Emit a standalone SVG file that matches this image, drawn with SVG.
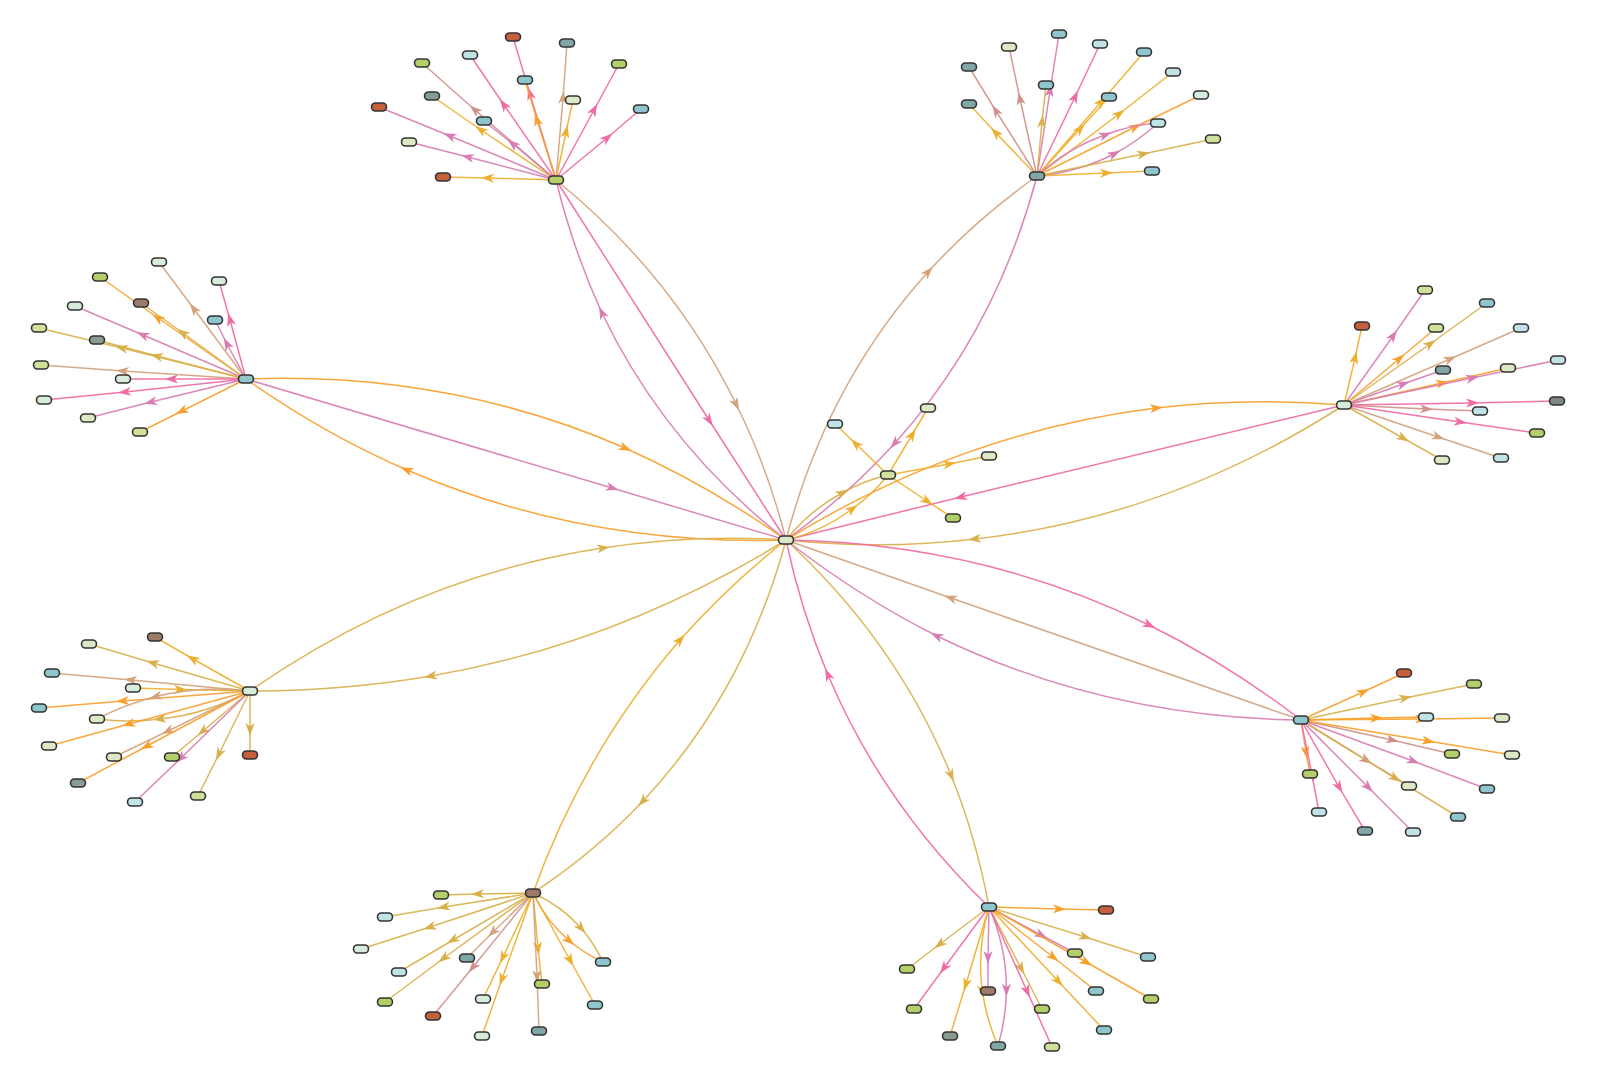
<svg xmlns="http://www.w3.org/2000/svg" width="1600" height="1084" viewBox="0 0 1600 1084">
<style>
.e{fill:none;stroke-width:1.5;stroke-opacity:.92}
.pk{stroke:#f06aa3;marker-mid:url(#a-pk)}
.mv{stroke:#d87db2;marker-mid:url(#a-mv)}
.rs{stroke:#d1908c;marker-mid:url(#a-rs)}
.tn{stroke:#d4a37c;marker-mid:url(#a-tn)}
.or{stroke:#f9a02c;marker-mid:url(#a-or)}
.am{stroke:#edb02e;marker-mid:url(#a-am)}
.gd{stroke:#d9b14c;marker-mid:url(#a-gd)}
.n rect{stroke:#333;stroke-width:1.6}
.gr{fill:#b3cf6a}.pg{fill:#cfe19b}.lg{fill:#dde9c4}.mi{fill:#d8ecdc}.lc{fill:#bfe3e6}
.te{fill:#8fc6cd}.gt{fill:#80a6a6}.gy{fill:#8a9c92}.dg{fill:#7f8782}.rd{fill:#c4603c}.br{fill:#9c7a68}
</style>
<defs>
<marker id="a-pk" viewBox="-7 -6 14 12" markerWidth="14" markerHeight="12" markerUnits="userSpaceOnUse" orient="auto"><path d="M-6,-4.5L7,0L-6,4.5L-2.5,0Z" fill="#f06aa3"/></marker>
<marker id="a-mv" viewBox="-7 -6 14 12" markerWidth="14" markerHeight="12" markerUnits="userSpaceOnUse" orient="auto"><path d="M-6,-4.5L7,0L-6,4.5L-2.5,0Z" fill="#d87db2"/></marker>
<marker id="a-rs" viewBox="-7 -6 14 12" markerWidth="14" markerHeight="12" markerUnits="userSpaceOnUse" orient="auto"><path d="M-6,-4.5L7,0L-6,4.5L-2.5,0Z" fill="#d1908c"/></marker>
<marker id="a-tn" viewBox="-7 -6 14 12" markerWidth="14" markerHeight="12" markerUnits="userSpaceOnUse" orient="auto"><path d="M-6,-4.5L7,0L-6,4.5L-2.5,0Z" fill="#d4a37c"/></marker>
<marker id="a-or" viewBox="-7 -6 14 12" markerWidth="14" markerHeight="12" markerUnits="userSpaceOnUse" orient="auto"><path d="M-6,-4.5L7,0L-6,4.5L-2.5,0Z" fill="#f9a02c"/></marker>
<marker id="a-am" viewBox="-7 -6 14 12" markerWidth="14" markerHeight="12" markerUnits="userSpaceOnUse" orient="auto"><path d="M-6,-4.5L7,0L-6,4.5L-2.5,0Z" fill="#edb02e"/></marker>
<marker id="a-gd" viewBox="-7 -6 14 12" markerWidth="14" markerHeight="12" markerUnits="userSpaceOnUse" orient="auto"><path d="M-6,-4.5L7,0L-6,4.5L-2.5,0Z" fill="#d9b14c"/></marker>
</defs>
<rect width="1600" height="1084" fill="#fff"/>
<g id="connectors">
<path class="e pk" d="M556,180L709,420L786,540"/>
<path class="e mv" d="M786,540Q665,445 602,313Q573,250 556,180"/>
<path class="e tn" d="M556,180Q673,275 736,404Q768,468 786,540"/>
<path class="e tn" d="M786,540Q826,385 928,272Q975,220 1037,176"/>
<path class="e mv" d="M1037,176Q996,331 895,443Q847,496 786,540"/>
<path class="e or" d="M246,379Q448,371 625,448Q708,485 786,540"/>
<path class="e mv" d="M246,379L612,488L786,540"/>
<path class="e or" d="M786,540Q584,546 407,470Q324,434 246,379"/>
<path class="e or" d="M786,540Q961,432 1156,408Q1248,397 1344,405"/>
<path class="e pk" d="M1344,405L961,497L786,540"/>
<path class="e gd" d="M1344,405Q1170,517 975,539Q883,550 786,540"/>
<path class="e gd" d="M250,691Q414,576 603,548Q692,534 786,540"/>
<path class="e gd" d="M786,540Q618,644 431,676Q343,691 250,691"/>
<path class="e tn" d="M1301,720L951,598L786,540"/>
<path class="e mv" d="M1301,720Q1105,718 937,636Q859,597 786,540"/>
<path class="e pk" d="M786,540Q981,543 1149,625Q1228,664 1301,720"/>
<path class="e am" d="M533,893Q584,751 680,640Q728,586 786,540"/>
<path class="e gd" d="M786,540Q745,692 643,801Q595,852 533,893"/>
<path class="e pk" d="M989,907Q883,805 828,675Q801,611 786,540"/>
<path class="e gd" d="M786,540Q897,642 951,775Q976,837 989,907"/>
<path class="e gd" d="M786,540Q810,510 842,493Q863,481 888,475"/>
<path class="e am" d="M786,540Q823,531 852,509Q872,495 888,475"/>
<path class="e am" d="M888,475L856,444L835,424"/>
<path class="e am" d="M888,475L912,435L928,408"/>
<path class="e am" d="M888,475L949,464L989,456"/>
<path class="e am" d="M888,475L927,501L953,518"/>
<path class="e pk" d="M556,180L530,94L513,37"/>
<path class="e or" d="M556,180L537,120L525,80"/>
<path class="e tn" d="M556,180L563,98L567,43"/>
<path class="e pk" d="M556,180L504,105L470,55"/>
<path class="e rs" d="M556,180L475,110L422,63"/>
<path class="e pk" d="M556,180L594,110L619,64"/>
<path class="e am" d="M556,180L481,130L432,96"/>
<path class="e am" d="M556,180L566,132L573,100"/>
<path class="e mv" d="M556,180L450,136L379,107"/>
<path class="e pk" d="M556,180L607,138L641,109"/>
<path class="e mv" d="M556,180L513,144L484,121"/>
<path class="e mv" d="M556,180L468,157L409,142"/>
<path class="e am" d="M556,180L488,178L443,177"/>
<path class="e mv" d="M1037,176L1050,91L1059,34"/>
<path class="e rs" d="M1037,176L1020,99L1009,47"/>
<path class="e pk" d="M1037,176L1075,97L1100,44"/>
<path class="e rs" d="M1037,176L996,111L969,67"/>
<path class="e am" d="M1037,176L1101,102L1144,52"/>
<path class="e am" d="M1037,176L1119,114L1173,72"/>
<path class="e gd" d="M1037,176L1042,122L1046,85"/>
<path class="e am" d="M1037,176L1080,129L1109,97"/>
<path class="e am" d="M1037,176L996,133L969,104"/>
<path class="e or" d="M1037,176L1135,127L1201,95"/>
<path class="e mv" d="M1037,176Q1068,148 1105,135Q1130,125 1158,123"/>
<path class="e mv" d="M1037,176Q1079,172 1114,154Q1137,142 1158,123"/>
<path class="e gd" d="M1037,176L1143,154L1213,139"/>
<path class="e am" d="M1037,176L1106,173L1152,171"/>
<path class="e tn" d="M246,379L194,309L159,262"/>
<path class="e or" d="M246,379L158,318L100,277"/>
<path class="e gd" d="M246,379L183,333L141,303"/>
<path class="e pk" d="M246,379L230,320L219,281"/>
<path class="e mv" d="M246,379L227,344L215,320"/>
<path class="e mv" d="M246,379L143,335L75,306"/>
<path class="e gd" d="M246,379L122,348L39,328"/>
<path class="e gd" d="M246,379L157,356L97,340"/>
<path class="e tn" d="M246,379L123,371L41,365"/>
<path class="e pk" d="M246,379L172,379L123,379"/>
<path class="e pk" d="M246,379L125,392L44,400"/>
<path class="e mv" d="M246,379L151,402L88,418"/>
<path class="e or" d="M246,379L182,411L140,432"/>
<path class="e am" d="M1344,405L1355,358L1362,326"/>
<path class="e mv" d="M1344,405L1393,336L1425,290"/>
<path class="e or" d="M1344,405L1399,359L1436,328"/>
<path class="e gd" d="M1344,405L1430,344L1487,303"/>
<path class="e tn" d="M1344,405L1450,359L1521,328"/>
<path class="e mv" d="M1344,405L1403,384L1443,370"/>
<path class="e or" d="M1344,405L1442,383L1508,368"/>
<path class="e mv" d="M1344,405L1472,378L1558,360"/>
<path class="e pk" d="M1344,405L1472,403L1557,401"/>
<path class="e rs" d="M1344,405L1426,409L1480,411"/>
<path class="e pk" d="M1344,405L1460,422L1537,433"/>
<path class="e gd" d="M1344,405L1403,438L1442,460"/>
<path class="e tn" d="M1344,405L1438,437L1501,458"/>
<path class="e am" d="M250,691L193,659L155,637"/>
<path class="e gd" d="M250,691L153,663L89,644"/>
<path class="e tn" d="M250,691L131,680L52,673"/>
<path class="e am" d="M133,688L180,689.5L250,691"/>
<path class="e or" d="M250,691L123,701L39,708"/>
<path class="e tn" d="M250,691Q201.5,685 156,696.5Q126,704 97,719"/>
<path class="e gd" d="M250,691Q207,714 160,719Q129,723 97,719"/>
<path class="e or" d="M250,691L129,724L49,746"/>
<path class="e tn" d="M250,691L168,731L114,757"/>
<path class="e or" d="M250,691L147,746L78,783"/>
<path class="e gd" d="M250,691L203,731L172,757"/>
<path class="e mv" d="M250,691L181,758L135,802"/>
<path class="e gd" d="M250,691L219,754L198,796"/>
<path class="e gd" d="M250,691L250,729L250,755"/>
<path class="e or" d="M1301,720L1363,692L1404,673"/>
<path class="e gd" d="M1301,720L1405,698L1474,684"/>
<path class="e or" d="M1301,720L1376,718L1426,717"/>
<path class="e or" d="M1301,720L1421,719L1502,718"/>
<path class="e rs" d="M1301,720L1392,740L1452,754"/>
<path class="e or" d="M1301,720L1428,741L1512,755"/>
<path class="e rs" d="M1301,720L1366,760L1409,786"/>
<path class="e gd" d="M1301,720L1395,778L1458,817"/>
<path class="e mv" d="M1301,720L1413,761L1487,789"/>
<path class="e or" d="M1301,720L1306,752L1310,774"/>
<path class="e pk" d="M1301,720L1312,775L1319,812"/>
<path class="e pk" d="M1301,720L1339,787L1365,831"/>
<path class="e mv" d="M1301,720L1368,787L1413,832"/>
<path class="e gd" d="M533,893L478,894L441,895"/>
<path class="e gd" d="M533,893L444,907L385,917"/>
<path class="e gd" d="M533,893L430,927L361,949"/>
<path class="e gd" d="M533,893L453,940L399,972"/>
<path class="e tn" d="M533,893L493,932L467,958"/>
<path class="e gd" d="M533,893L444,958L385,1002"/>
<path class="e rs" d="M533,893L473,967L433,1016"/>
<path class="e am" d="M533,893L503,957L483,999"/>
<path class="e am" d="M533,893L502,979L482,1036"/>
<path class="e am" d="M533,893L538,948L542,984"/>
<path class="e tn" d="M533,893L537,976L539,1031"/>
<path class="e am" d="M533,893L570,960L595,1005"/>
<path class="e gd" d="M533,893Q561.6,906 581,928Q594,943 603,962"/>
<path class="e or" d="M533,893Q546.4,921.4 569,940.5Q584,953.3 603,962"/>
<path class="e or" d="M989,907L1059,909L1106,910"/>
<path class="e gd" d="M989,907L1085,937L1148,957"/>
<path class="e mv" d="M989,907L1041,935L1075,953"/>
<path class="e or" d="M989,907L1086,962L1151,999"/>
<path class="e or" d="M989,907L1053,957L1096,991"/>
<path class="e gd" d="M989,907L940,944L907,969"/>
<path class="e pk" d="M989,907L944,968L914,1009"/>
<path class="e mv" d="M989,907L988,957L988,991"/>
<path class="e gd" d="M989,907L1021,968L1042,1009"/>
<path class="e am" d="M989,907L1058,981L1104,1030"/>
<path class="e am" d="M989,907L966,984L950,1036"/>
<path class="e am" d="M989,907Q976.7,949.7 982.4,991.2Q986.2,1018.8 998,1046"/>
<path class="e mv" d="M989,907Q1006.7,947.7 1006.4,989.7Q1006.2,1017.6 998,1046"/>
<path class="e pk" d="M989,907L1027,991L1052,1047"/>
</g>
<g id="n-c0" class="n"><rect class="lg" x="778.5" y="536" width="15" height="8" rx="4"/></g>
<g id="n-h1" class="n"><rect class="gr" x="548.5" y="176" width="15" height="8" rx="4"/></g>
<g id="n-h2" class="n"><rect class="gt" x="1029.5" y="172" width="15" height="8" rx="4"/></g>
<g id="n-h3" class="n"><rect class="te" x="238.5" y="375" width="15" height="8" rx="4"/></g>
<g id="n-h4" class="n"><rect class="mi" x="1336.5" y="401" width="15" height="8" rx="4"/></g>
<g id="n-h5" class="n"><rect class="mi" x="242.5" y="687" width="15" height="8" rx="4"/></g>
<g id="n-h6" class="n"><rect class="te" x="1293.5" y="716" width="15" height="8" rx="4"/></g>
<g id="n-h7" class="n"><rect class="br" x="525.5" y="889" width="15" height="8" rx="4"/></g>
<g id="n-h8" class="n"><rect class="te" x="981.5" y="903" width="15" height="8" rx="4"/></g>
<g id="n-h9" class="n"><rect class="pg" x="880.5" y="471" width="15" height="8" rx="4"/></g>
<g id="n-9a" class="n"><rect class="lc" x="827.5" y="420" width="15" height="8" rx="4"/></g>
<g id="n-9b" class="n"><rect class="lg" x="920.5" y="404" width="15" height="8" rx="4"/></g>
<g id="n-9c" class="n"><rect class="lg" x="981.5" y="452" width="15" height="8" rx="4"/></g>
<g id="n-9d" class="n"><rect class="gr" x="945.5" y="514" width="15" height="8" rx="4"/></g>
<g id="n-1a" class="n"><rect class="rd" x="505.5" y="33" width="15" height="8" rx="4"/></g>
<g id="n-1b" class="n"><rect class="te" x="517.5" y="76" width="15" height="8" rx="4"/></g>
<g id="n-1c" class="n"><rect class="gt" x="559.5" y="39" width="15" height="8" rx="4"/></g>
<g id="n-1d" class="n"><rect class="lc" x="462.5" y="51" width="15" height="8" rx="4"/></g>
<g id="n-1e" class="n"><rect class="gr" x="414.5" y="59" width="15" height="8" rx="4"/></g>
<g id="n-1f" class="n"><rect class="gr" x="611.5" y="60" width="15" height="8" rx="4"/></g>
<g id="n-1g" class="n"><rect class="gy" x="424.5" y="92" width="15" height="8" rx="4"/></g>
<g id="n-1h" class="n"><rect class="lg" x="565.5" y="96" width="15" height="8" rx="4"/></g>
<g id="n-1i" class="n"><rect class="rd" x="371.5" y="103" width="15" height="8" rx="4"/></g>
<g id="n-1j" class="n"><rect class="te" x="633.5" y="105" width="15" height="8" rx="4"/></g>
<g id="n-1k" class="n"><rect class="te" x="476.5" y="117" width="15" height="8" rx="4"/></g>
<g id="n-1l" class="n"><rect class="lg" x="401.5" y="138" width="15" height="8" rx="4"/></g>
<g id="n-1m" class="n"><rect class="rd" x="435.5" y="173" width="15" height="8" rx="4"/></g>
<g id="n-2a" class="n"><rect class="te" x="1051.5" y="30" width="15" height="8" rx="4"/></g>
<g id="n-2b" class="n"><rect class="lg" x="1001.5" y="43" width="15" height="8" rx="4"/></g>
<g id="n-2c" class="n"><rect class="lc" x="1092.5" y="40" width="15" height="8" rx="4"/></g>
<g id="n-2d" class="n"><rect class="gt" x="961.5" y="63" width="15" height="8" rx="4"/></g>
<g id="n-2e" class="n"><rect class="te" x="1136.5" y="48" width="15" height="8" rx="4"/></g>
<g id="n-2f" class="n"><rect class="lc" x="1165.5" y="68" width="15" height="8" rx="4"/></g>
<g id="n-2g" class="n"><rect class="te" x="1038.5" y="81" width="15" height="8" rx="4"/></g>
<g id="n-2h" class="n"><rect class="te" x="1101.5" y="93" width="15" height="8" rx="4"/></g>
<g id="n-2i" class="n"><rect class="gt" x="961.5" y="100" width="15" height="8" rx="4"/></g>
<g id="n-2j" class="n"><rect class="mi" x="1193.5" y="91" width="15" height="8" rx="4"/></g>
<g id="n-2k" class="n"><rect class="lc" x="1150.5" y="119" width="15" height="8" rx="4"/></g>
<g id="n-2l" class="n"><rect class="pg" x="1205.5" y="135" width="15" height="8" rx="4"/></g>
<g id="n-2m" class="n"><rect class="te" x="1144.5" y="167" width="15" height="8" rx="4"/></g>
<g id="n-3a" class="n"><rect class="mi" x="151.5" y="258" width="15" height="8" rx="4"/></g>
<g id="n-3b" class="n"><rect class="gr" x="92.5" y="273" width="15" height="8" rx="4"/></g>
<g id="n-3c" class="n"><rect class="br" x="133.5" y="299" width="15" height="8" rx="4"/></g>
<g id="n-3d" class="n"><rect class="mi" x="211.5" y="277" width="15" height="8" rx="4"/></g>
<g id="n-3e" class="n"><rect class="te" x="207.5" y="316" width="15" height="8" rx="4"/></g>
<g id="n-3f" class="n"><rect class="mi" x="67.5" y="302" width="15" height="8" rx="4"/></g>
<g id="n-3g" class="n"><rect class="pg" x="31.5" y="324" width="15" height="8" rx="4"/></g>
<g id="n-3h" class="n"><rect class="gy" x="89.5" y="336" width="15" height="8" rx="4"/></g>
<g id="n-3i" class="n"><rect class="pg" x="33.5" y="361" width="15" height="8" rx="4"/></g>
<g id="n-3j" class="n"><rect class="mi" x="115.5" y="375" width="15" height="8" rx="4"/></g>
<g id="n-3k" class="n"><rect class="mi" x="36.5" y="396" width="15" height="8" rx="4"/></g>
<g id="n-3l" class="n"><rect class="lg" x="80.5" y="414" width="15" height="8" rx="4"/></g>
<g id="n-3m" class="n"><rect class="pg" x="132.5" y="428" width="15" height="8" rx="4"/></g>
<g id="n-4a" class="n"><rect class="rd" x="1354.5" y="322" width="15" height="8" rx="4"/></g>
<g id="n-4b" class="n"><rect class="pg" x="1417.5" y="286" width="15" height="8" rx="4"/></g>
<g id="n-4c" class="n"><rect class="pg" x="1428.5" y="324" width="15" height="8" rx="4"/></g>
<g id="n-4d" class="n"><rect class="te" x="1479.5" y="299" width="15" height="8" rx="4"/></g>
<g id="n-4e" class="n"><rect class="lc" x="1513.5" y="324" width="15" height="8" rx="4"/></g>
<g id="n-4f" class="n"><rect class="gt" x="1435.5" y="366" width="15" height="8" rx="4"/></g>
<g id="n-4g" class="n"><rect class="lg" x="1500.5" y="364" width="15" height="8" rx="4"/></g>
<g id="n-4h" class="n"><rect class="lc" x="1550.5" y="356" width="15" height="8" rx="4"/></g>
<g id="n-4i" class="n"><rect class="dg" x="1549.5" y="397" width="15" height="8" rx="4"/></g>
<g id="n-4j" class="n"><rect class="lc" x="1472.5" y="407" width="15" height="8" rx="4"/></g>
<g id="n-4k" class="n"><rect class="gr" x="1529.5" y="429" width="15" height="8" rx="4"/></g>
<g id="n-4l" class="n"><rect class="lg" x="1434.5" y="456" width="15" height="8" rx="4"/></g>
<g id="n-4m" class="n"><rect class="lc" x="1493.5" y="454" width="15" height="8" rx="4"/></g>
<g id="n-5a" class="n"><rect class="br" x="147.5" y="633" width="15" height="8" rx="4"/></g>
<g id="n-5b" class="n"><rect class="lg" x="81.5" y="640" width="15" height="8" rx="4"/></g>
<g id="n-5c" class="n"><rect class="te" x="44.5" y="669" width="15" height="8" rx="4"/></g>
<g id="n-5d" class="n"><rect class="mi" x="125.5" y="684" width="15" height="8" rx="4"/></g>
<g id="n-5e" class="n"><rect class="te" x="31.5" y="704" width="15" height="8" rx="4"/></g>
<g id="n-5f" class="n"><rect class="lg" x="89.5" y="715" width="15" height="8" rx="4"/></g>
<g id="n-5g" class="n"><rect class="lg" x="41.5" y="742" width="15" height="8" rx="4"/></g>
<g id="n-5h" class="n"><rect class="lg" x="106.5" y="753" width="15" height="8" rx="4"/></g>
<g id="n-5i" class="n"><rect class="gy" x="70.5" y="779" width="15" height="8" rx="4"/></g>
<g id="n-5j" class="n"><rect class="gr" x="164.5" y="753" width="15" height="8" rx="4"/></g>
<g id="n-5k" class="n"><rect class="lc" x="127.5" y="798" width="15" height="8" rx="4"/></g>
<g id="n-5l" class="n"><rect class="pg" x="190.5" y="792" width="15" height="8" rx="4"/></g>
<g id="n-5m" class="n"><rect class="rd" x="242.5" y="751" width="15" height="8" rx="4"/></g>
<g id="n-6a" class="n"><rect class="rd" x="1396.5" y="669" width="15" height="8" rx="4"/></g>
<g id="n-6b" class="n"><rect class="gr" x="1466.5" y="680" width="15" height="8" rx="4"/></g>
<g id="n-6c" class="n"><rect class="lc" x="1418.5" y="713" width="15" height="8" rx="4"/></g>
<g id="n-6d" class="n"><rect class="lg" x="1494.5" y="714" width="15" height="8" rx="4"/></g>
<g id="n-6e" class="n"><rect class="gr" x="1444.5" y="750" width="15" height="8" rx="4"/></g>
<g id="n-6f" class="n"><rect class="lg" x="1504.5" y="751" width="15" height="8" rx="4"/></g>
<g id="n-6g" class="n"><rect class="lg" x="1401.5" y="782" width="15" height="8" rx="4"/></g>
<g id="n-6h" class="n"><rect class="te" x="1450.5" y="813" width="15" height="8" rx="4"/></g>
<g id="n-6i" class="n"><rect class="te" x="1479.5" y="785" width="15" height="8" rx="4"/></g>
<g id="n-6j" class="n"><rect class="gr" x="1302.5" y="770" width="15" height="8" rx="4"/></g>
<g id="n-6k" class="n"><rect class="lc" x="1311.5" y="808" width="15" height="8" rx="4"/></g>
<g id="n-6l" class="n"><rect class="gt" x="1357.5" y="827" width="15" height="8" rx="4"/></g>
<g id="n-6m" class="n"><rect class="lc" x="1405.5" y="828" width="15" height="8" rx="4"/></g>
<g id="n-7a" class="n"><rect class="gr" x="433.5" y="891" width="15" height="8" rx="4"/></g>
<g id="n-7b" class="n"><rect class="lc" x="377.5" y="913" width="15" height="8" rx="4"/></g>
<g id="n-7c" class="n"><rect class="mi" x="353.5" y="945" width="15" height="8" rx="4"/></g>
<g id="n-7d" class="n"><rect class="lc" x="391.5" y="968" width="15" height="8" rx="4"/></g>
<g id="n-7e" class="n"><rect class="gt" x="459.5" y="954" width="15" height="8" rx="4"/></g>
<g id="n-7f" class="n"><rect class="gr" x="377.5" y="998" width="15" height="8" rx="4"/></g>
<g id="n-7g" class="n"><rect class="rd" x="425.5" y="1012" width="15" height="8" rx="4"/></g>
<g id="n-7h" class="n"><rect class="mi" x="475.5" y="995" width="15" height="8" rx="4"/></g>
<g id="n-7i" class="n"><rect class="mi" x="474.5" y="1032" width="15" height="8" rx="4"/></g>
<g id="n-7j" class="n"><rect class="gr" x="534.5" y="980" width="15" height="8" rx="4"/></g>
<g id="n-7k" class="n"><rect class="gt" x="531.5" y="1027" width="15" height="8" rx="4"/></g>
<g id="n-7l" class="n"><rect class="te" x="587.5" y="1001" width="15" height="8" rx="4"/></g>
<g id="n-7m" class="n"><rect class="te" x="595.5" y="958" width="15" height="8" rx="4"/></g>
<g id="n-8a" class="n"><rect class="rd" x="1098.5" y="906" width="15" height="8" rx="4"/></g>
<g id="n-8b" class="n"><rect class="te" x="1140.5" y="953" width="15" height="8" rx="4"/></g>
<g id="n-8c" class="n"><rect class="gr" x="1067.5" y="949" width="15" height="8" rx="4"/></g>
<g id="n-8d" class="n"><rect class="gr" x="1143.5" y="995" width="15" height="8" rx="4"/></g>
<g id="n-8e" class="n"><rect class="te" x="1088.5" y="987" width="15" height="8" rx="4"/></g>
<g id="n-8f" class="n"><rect class="gr" x="899.5" y="965" width="15" height="8" rx="4"/></g>
<g id="n-8g" class="n"><rect class="gr" x="906.5" y="1005" width="15" height="8" rx="4"/></g>
<g id="n-8h" class="n"><rect class="br" x="980.5" y="987" width="15" height="8" rx="4"/></g>
<g id="n-8i" class="n"><rect class="gr" x="1034.5" y="1005" width="15" height="8" rx="4"/></g>
<g id="n-8j" class="n"><rect class="te" x="1096.5" y="1026" width="15" height="8" rx="4"/></g>
<g id="n-8k" class="n"><rect class="gy" x="942.5" y="1032" width="15" height="8" rx="4"/></g>
<g id="n-8l" class="n"><rect class="gt" x="990.5" y="1042" width="15" height="8" rx="4"/></g>
<g id="n-8m" class="n"><rect class="pg" x="1044.5" y="1043" width="15" height="8" rx="4"/></g>
</svg>
